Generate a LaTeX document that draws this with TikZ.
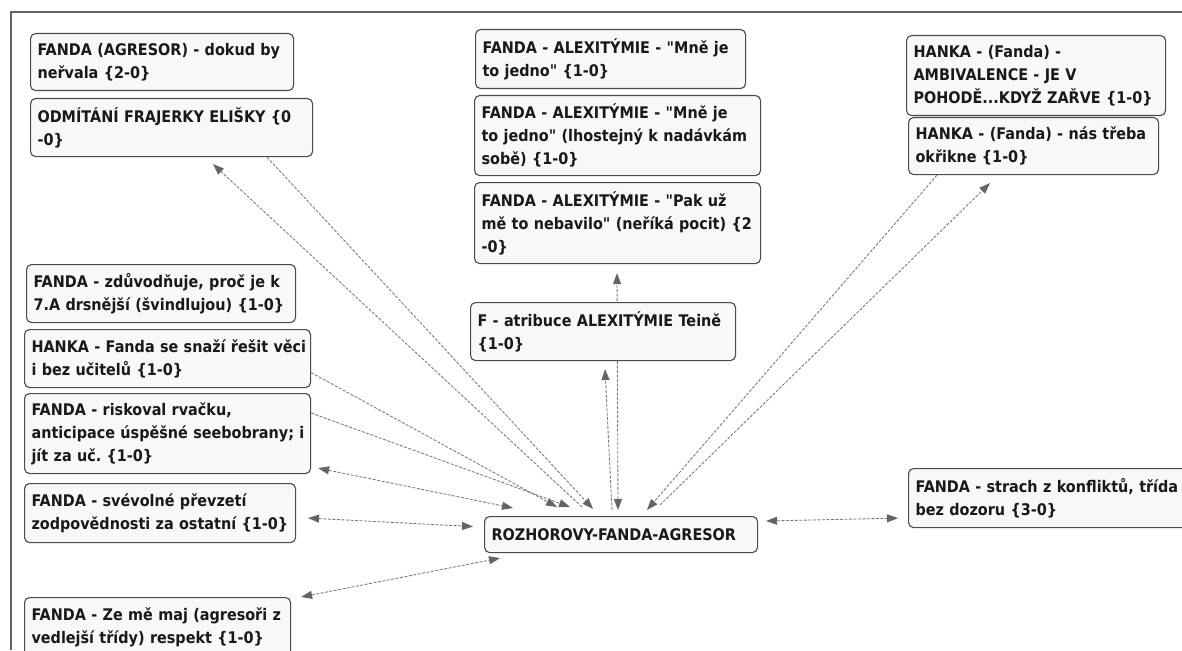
\documentclass[tikz,border=0pt]{standalone}
\usepackage{fontspec}
\newfontfamily\boxfont{DejaVu Sans}[FakeStretch=0.9]
\usetikzlibrary{arrows.meta,backgrounds}
\definecolor{linegray}{RGB}{120,120,120}
\definecolor{tipgray}{RGB}{100,100,100}
\definecolor{boxborder}{RGB}{75,75,75}
\definecolor{boxfill}{RGB}{248,248,248}
\definecolor{framegray}{RGB}{100,100,100}
\newcommand\ml[1]{\mbox{#1}}
\frenchspacing
\tikzset{
  box/.style={draw=boxborder, line width=1.1pt, rounded corners=5pt, fill=boxfill,
    anchor=north west, inner xsep=7pt, inner ysep=4pt, align=left,
    font=\boxfont\bfseries\fontsize{16}{23}\selectfont, text=black!90},
  conn/.style={draw=linegray, line width=0.85pt, dash pattern=on 3pt off 1.5pt,
    >={Triangle[length=11pt,width=8pt,fill=tipgray,color=tipgray]}},
  frame/.style={draw=framegray, line width=1.6pt}
}
\begin{document}
\begin{tikzpicture}[x=1pt,y=-1pt]
\useasboundingbox (0,0) rectangle (1182,650);

\node[box, text width=249pt, minimum height=57pt] (A) at (30,33)
  {\ml{FANDA (AGRESOR) - dokud by}\\\ml{neřvala \{2-0\}}};
\node[box, text width=268pt, minimum height=58pt] (B) at (30,98)
  {\ml{ODMÍTÁNÍ FRAJERKY ELIŠKY \{0}\\\ml{-0\}}};
\node[box, text width=256pt, minimum height=59pt] (C) at (475,29)
  {\ml{FANDA - ALEXITÝMIE - "Mně je}\\\ml{to jedno" \{1-0\}}};
\node[box, text width=272pt, minimum height=80pt] (D) at (474,95)
  {\ml{FANDA - ALEXITÝMIE - "Mně je}\\\ml{to jedno" (lhostejný k nadávkám}\\\ml{sobě) \{1-0\}}};
\node[box, text width=272pt, minimum height=81pt] (E) at (474,182)
  {\ml{FANDA - ALEXITÝMIE - "Pak už}\\\ml{mě to nebavilo" (neříká pocit) \{2}\\\ml{-0\}}};
\node[box, text width=245pt, minimum height=80pt] (F) at (906,35)
  {\ml{HANKA - (Fanda) -}\\\ml{AMBIVALENCE - JE V}\\\ml{POHODĚ...KDYŽ ZAŘVE \{1-0\}}};
\node[box, text width=236pt, minimum height=57pt] (G) at (908,117)
  {\ml{HANKA - (Fanda) - nás třeba}\\\ml{okřikne \{1-0\}}};
\node[box, text width=255pt, minimum height=58pt] (H) at (26,264)
  {\ml{FANDA - zdůvodňuje, proč je k}\\\ml{7.A drsnější (švindlujou) \{1-0\}}};
\node[box, text width=272pt, minimum height=58pt] (I) at (24,329)
  {\ml{HANKA - Fanda se snaží řešit věci}\\\ml{i bez učitelů \{1-0\}}};
\node[box, text width=272pt, minimum height=80pt] (J) at (24,393)
  {\ml{FANDA - riskoval rvačku,}\\\ml{anticipace úspěšné seebobrany; i}\\\ml{jít za uč. \{1-0\}}};
\node[box, text width=257pt, minimum height=59pt] (K) at (24,483)
  {\ml{FANDA - svévolné převzetí}\\\ml{zodpovědnosti za ostatní \{1-0\}}};
\node[box, text width=252pt, minimum height=60pt] (L) at (24,597)
  {\ml{FANDA - Ze mě maj (agresoři z}\\\ml{vedlejší třídy) respekt \{1-0\}}};
\node[box, text width=251pt, minimum height=58pt] (M) at (470,302)
  {\ml{F - atribuce ALEXITÝMIE Teině}\\\ml{\{1-0\}}};
\node[box, text width=259pt, minimum height=36pt] (N) at (484,516)
  {\ml{ROZHOROVY-FANDA-AGRESOR}};
\node[box, text width=276pt, minimum height=59pt] (O) at (908,468)
  {\ml{FANDA - strach z konfliktů, třída}\\\ml{bez dozoru \{3-0\}}};

\begin{pgfonlayer}{background}
\fill[white] (0,0) rectangle (1182,650);
\draw[frame] (11,650) -- (11,12) -- (1182,12);
\draw[conn,->] ([yshift=-14pt]I.east) -- ([xshift=73pt,yshift=9pt]N.north west);
\draw[conn,->] ([yshift=-20pt]J.north east) -- ([xshift=86pt,yshift=9pt]N.north west);
\draw[conn,<->] ([xshift=7pt,yshift=6pt]J.south east) -- ([xshift=29pt,yshift=8pt]N.north west);
\draw[conn,<->] ([xshift=12pt,yshift=-5pt]K.east) -- ([xshift=-11pt,yshift=8pt]N.west);
\draw[conn,<->] ([xshift=10pt]L.north east) -- ([xshift=16pt,yshift=-5pt]N.south west);
\draw[conn,<->] ([xshift=8pt,yshift=-5pt]N.north east) -- ([xshift=-10pt,yshift=10pt]O.south west);
\draw[conn,->] ([xshift=237pt]B.south west) -- ([xshift=109pt,yshift=7pt]N.north west);
\draw[conn,->] ([xshift=98pt,yshift=9pt]N.north west) -- ([xshift=183pt,yshift=-7pt]B.south west);
\draw[conn,<->] ([xshift=134pt,yshift=6pt]N.north west) -- ([xshift=143pt,yshift=-9pt]E.south west);
\draw[conn,->] ([xshift=128pt,yshift=6pt]N.north west) -- ([xshift=135pt,yshift=-8pt]M.south west);
\draw[conn,->] ([xshift=29pt]G.south west) -- ([xshift=163pt,yshift=6pt]N.north west);
\draw[conn,->] ([xshift=176pt,yshift=11pt]N.north west) -- ([xshift=82pt,yshift=-8pt]G.south west);
\end{pgfonlayer}
\end{tikzpicture}
\end{document}
